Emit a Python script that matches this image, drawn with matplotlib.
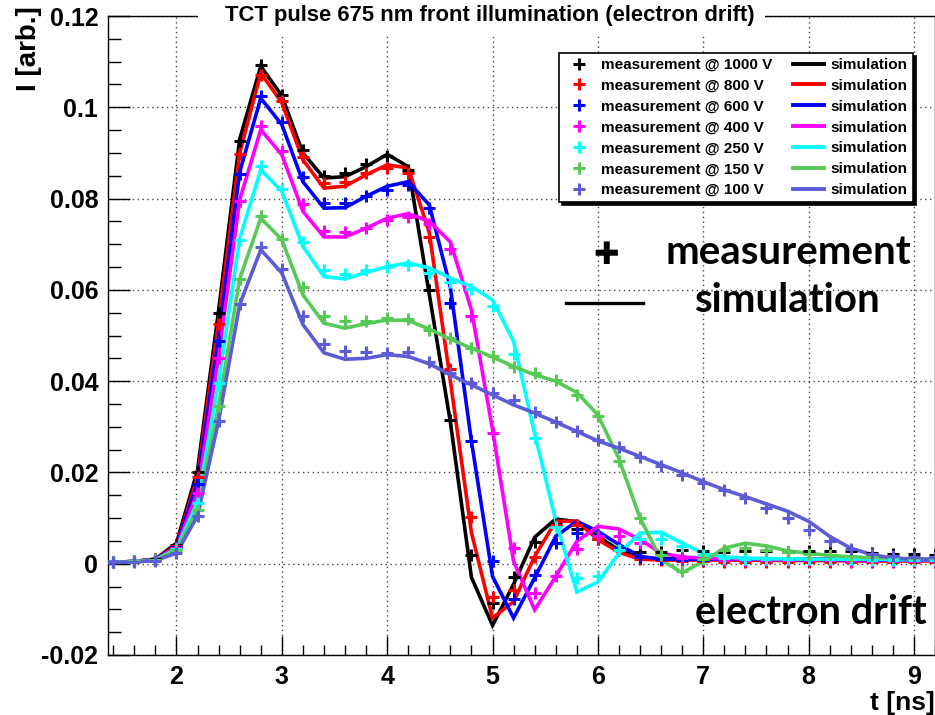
#!/usr/bin/env python3
"""TCT pulse, 675 nm front illumination: measured vs simulated current for several bias voltages."""
import matplotlib
matplotlib.use("Agg")
import matplotlib.pyplot as plt
from matplotlib.lines import Line2D
from matplotlib.patches import Rectangle
from matplotlib.ticker import MultipleLocator, FuncFormatter

# sampling times [ns], 0.2 ns steps
t_ns = [1.2, 1.4, 1.6, 1.8, 2.0, 2.2, 2.4, 2.6, 2.8, 3.0,
        3.2, 3.4, 3.6, 3.8, 4.0, 4.2, 4.4, 4.6, 4.8, 5.0,
        5.2, 5.4, 5.6, 5.8, 6.0, 6.2, 6.4, 6.6, 6.8, 7.0,
        7.2, 7.4, 7.6, 7.8, 8.0, 8.2, 8.4, 8.6, 8.8, 9.0, 9.2]

voltages = [1000, 800, 600, 400, 250, 150, 100]
colors = ["#000000", "#ff0000", "#0000ff", "#ff00ff", "#00ffff", "#57c957", "#5c5cd6"]

meas_1000 = [0.0003, 0.0004, 0.0005, 0.0010, 0.0042,
             0.0200, 0.0549, 0.0927, 0.1093, 0.1027,
             0.0907, 0.0850, 0.0855, 0.0876, 0.0893,
             0.0862, 0.0600, 0.0314, 0.0018, -0.0085,
             -0.0029, 0.0048, 0.0088, 0.0075, 0.0055,
             0.0035, 0.0025, 0.0025, 0.0030, 0.0028,
             0.0026, 0.0028, 0.0027, 0.0026, 0.0028,
             0.0028, 0.0027, 0.0024, 0.0022, 0.0022, 0.0020]
sim_1000 = [0.0003, 0.0003, 0.0005, 0.0010, 0.0045,
            0.0205, 0.0555, 0.0930, 0.1090, 0.1025,
            0.0900, 0.0845, 0.0848, 0.0870, 0.0897,
            0.0870, 0.0590, 0.0310, -0.0030, -0.0135,
            -0.0045, 0.0058, 0.0098, 0.0092, 0.0060,
            0.0030, 0.0013, 0.0010, 0.0012, 0.0012,
            0.0012, 0.0011, 0.0011, 0.0010, 0.0010,
            0.0010, 0.0009, 0.0009, 0.0008, 0.0008, 0.0008]

meas_800 = [0.0003, 0.0003, 0.0005, 0.0009, 0.0038,
            0.0189, 0.0525, 0.0897, 0.1071, 0.1013,
            0.0890, 0.0835, 0.0836, 0.0855, 0.0867,
            0.0856, 0.0716, 0.0427, 0.0102, -0.0072,
            -0.0057, 0.0014, 0.0085, 0.0085, 0.0055,
            0.0030, 0.0010, 0.0008, 0.0005, 0.0005,
            0.0004, 0.0004, 0.0004, 0.0003, 0.0004,
            0.0003, 0.0003, 0.0003, 0.0003, 0.0003, 0.0003]
sim_800 = [0.0003, 0.0003, 0.0005, 0.0010, 0.0040,
           0.0190, 0.0530, 0.0900, 0.1075, 0.1010,
           0.0885, 0.0823, 0.0827, 0.0852, 0.0874,
           0.0867, 0.0725, 0.0400, 0.0068, -0.0119,
           -0.0083, 0.0016, 0.0093, 0.0093, 0.0053,
           0.0025, 0.0010, 0.0008, 0.0008, 0.0008,
           0.0008, 0.0008, 0.0007, 0.0007, 0.0007,
           0.0007, 0.0006, 0.0006, 0.0006, 0.0006, 0.0006]

meas_600 = [0.0003, 0.0003, 0.0005, 0.0009, 0.0036,
            0.0175, 0.0489, 0.0854, 0.1024, 0.0967,
            0.0848, 0.0790, 0.0790, 0.0805, 0.0819,
            0.0830, 0.0780, 0.0572, 0.0269, 0.0007,
            -0.0077, -0.0024, 0.0045, 0.0067, 0.0062,
            0.0035, 0.0015, 0.0010, 0.0009, 0.0009,
            0.0009, 0.0009, 0.0008, 0.0008, 0.0008,
            0.0008, 0.0008, 0.0007, 0.0007, 0.0007, 0.0007]
sim_600 = [0.0003, 0.0003, 0.0005, 0.0009, 0.0037,
           0.0178, 0.0495, 0.0858, 0.1020, 0.0962,
           0.0837, 0.0779, 0.0780, 0.0805, 0.0827,
           0.0837, 0.0786, 0.0605, 0.0268, -0.0028,
           -0.0119, -0.0031, 0.0060, 0.0093, 0.0071,
           0.0042, 0.0016, 0.0010, 0.0010, 0.0010,
           0.0010, 0.0010, 0.0009, 0.0009, 0.0009,
           0.0009, 0.0008, 0.0008, 0.0008, 0.0008, 0.0008]

meas_400 = [0.0003, 0.0003, 0.0005, 0.0009, 0.0034,
            0.0155, 0.0451, 0.0794, 0.0958, 0.0905,
            0.0789, 0.0728, 0.0726, 0.0735, 0.0752,
            0.0759, 0.0745, 0.0690, 0.0542, 0.0286,
            0.0034, -0.0064, -0.0028, 0.0033, 0.0060,
            0.0060, 0.0045, 0.0020, 0.0012, 0.0010,
            0.0009, 0.0009, 0.0008, 0.0008, 0.0008,
            0.0008, 0.0007, 0.0007, 0.0007, 0.0007, 0.0007]
sim_400 = [0.0003, 0.0003, 0.0005, 0.0009, 0.0035,
           0.0158, 0.0455, 0.0797, 0.0951, 0.0896,
           0.0772, 0.0716, 0.0716, 0.0735, 0.0757,
           0.0767, 0.0750, 0.0705, 0.0556, 0.0294,
           0.0005, -0.0101, -0.0028, 0.0049, 0.0082,
           0.0076, 0.0053, 0.0023, 0.0015, 0.0012,
           0.0011, 0.0011, 0.0010, 0.0010, 0.0010,
           0.0010, 0.0009, 0.0009, 0.0009, 0.0009, 0.0009]

meas_250 = [0.0003, 0.0003, 0.0005, 0.0008, 0.0032,
            0.0134, 0.0396, 0.0710, 0.0872, 0.0821,
            0.0704, 0.0644, 0.0635, 0.0643, 0.0650,
            0.0655, 0.0638, 0.0618, 0.0602, 0.0564,
            0.0460, 0.0275, 0.0080, -0.0031, -0.0028,
            0.0030, 0.0055, 0.0054, 0.0038, 0.0020,
            0.0012, 0.0011, 0.0010, 0.0010, 0.0010,
            0.0010, 0.0010, 0.0009, 0.0009, 0.0009, 0.0009]
sim_250 = [0.0003, 0.0003, 0.0005, 0.0008, 0.0033,
           0.0135, 0.0398, 0.0712, 0.0863, 0.0816,
           0.0695, 0.0629, 0.0624, 0.0638, 0.0651,
           0.0659, 0.0648, 0.0626, 0.0607, 0.0578,
           0.0487, 0.0285, 0.0095, -0.0062, -0.0040,
           0.0023, 0.0067, 0.0069, 0.0045, 0.0023,
           0.0015, 0.0012, 0.0011, 0.0011, 0.0010,
           0.0010, 0.0010, 0.0010, 0.0009, 0.0009, 0.0009]

meas_150 = [0.0003, 0.0003, 0.0005, 0.0008, 0.0030,
            0.0118, 0.0346, 0.0624, 0.0761, 0.0712,
            0.0606, 0.0542, 0.0531, 0.0532, 0.0538,
            0.0536, 0.0513, 0.0495, 0.0472, 0.0454,
            0.0432, 0.0418, 0.0402, 0.0370, 0.0323,
            0.0224, 0.0100, 0.0020, -0.0016, 0.0010,
            0.0031, 0.0034, 0.0030, 0.0025, 0.0022,
            0.0018, 0.0016, 0.0015, 0.0014, 0.0013, 0.0012]
sim_150 = [0.0003, 0.0003, 0.0005, 0.0008, 0.0030,
           0.0118, 0.0346, 0.0624, 0.0757, 0.0710,
           0.0589, 0.0527, 0.0516, 0.0526, 0.0534,
           0.0533, 0.0514, 0.0492, 0.0472, 0.0453,
           0.0432, 0.0414, 0.0400, 0.0375, 0.0326,
           0.0230, 0.0100, 0.0009, -0.0020, 0.0005,
           0.0034, 0.0045, 0.0039, 0.0028, 0.0023,
           0.0018, 0.0015, 0.0013, 0.0012, 0.0011, 0.0010]

meas_100 = [0.0003, 0.0003, 0.0004, 0.0007, 0.0023,
            0.0105, 0.0313, 0.0569, 0.0693, 0.0646,
            0.0542, 0.0482, 0.0465, 0.0463, 0.0462,
            0.0463, 0.0443, 0.0418, 0.0395, 0.0374,
            0.0358, 0.0332, 0.0310, 0.0290, 0.0272,
            0.0256, 0.0234, 0.0215, 0.0195, 0.0177,
            0.0161, 0.0144, 0.0122, 0.0100, 0.0073,
            0.0049, 0.0033, 0.0022, 0.0016, 0.0015, 0.0015]
sim_100 = [0.0003, 0.0003, 0.0004, 0.0007, 0.0023,
           0.0105, 0.0313, 0.0568, 0.0688, 0.0637,
           0.0524, 0.0462, 0.0448, 0.0450, 0.0458,
           0.0454, 0.0438, 0.0414, 0.0392, 0.0370,
           0.0348, 0.0330, 0.0310, 0.0290, 0.0269,
           0.0253, 0.0235, 0.0217, 0.0199, 0.0180,
           0.0162, 0.0147, 0.0131, 0.0115, 0.0093,
           0.0060, 0.0034, 0.0020, 0.0012, 0.0010, 0.0010]

measurements = [meas_1000, meas_800, meas_600, meas_400, meas_250, meas_150, meas_100]
simulations = [sim_1000, sim_800, sim_600, sim_400, sim_250, sim_150, sim_100]

plt.rcParams['font.family'] = ['Liberation Sans', 'DejaVu Sans']
plt.rcParams['font.weight'] = 'bold'
plt.rcParams['axes.unicode_minus'] = False

fig = plt.figure(figsize=(9.35, 7.15), dpi=100)
ax = fig.add_axes([108 / 935, 60 / 715, 827 / 935, 639 / 715])

line_handles = []
marker_handles = []
for sim, col in zip(simulations, colors):
    ln, = ax.plot(t_ns, sim, color=col, lw=2.6, solid_joinstyle='miter', zorder=3)
    line_handles.append(ln)
for meas, col in zip(measurements, colors):
    mk, = ax.plot(t_ns, meas, ls='none', marker='+', ms=9, mew=2.2, color=col, zorder=4)
    marker_handles.append(mk)

ax.set_xlim(1.35, 9.2)
ax.set_ylim(-0.02, 0.12)

ax.xaxis.set_major_locator(MultipleLocator(1))
ax.xaxis.set_minor_locator(MultipleLocator(0.2))
ax.yaxis.set_major_locator(MultipleLocator(0.02))
ax.yaxis.set_minor_locator(MultipleLocator(0.005))
ax.yaxis.set_major_formatter(FuncFormatter(lambda v, pos: f"{round(v, 3):g}"))

ax.tick_params(axis='both', which='both', direction='in', top=False, right=False,
               width=1.0, color='black')
ax.tick_params(axis='x', which='major', length=14, pad=7, labelsize=18)
ax.tick_params(axis='x', which='minor', length=7)
ax.tick_params(axis='y', which='major', length=16, pad=7, labelsize=18)
ax.tick_params(axis='y', which='minor', length=9)
for lab in ax.get_xticklabels() + ax.get_yticklabels():
    lab.set_fontweight('bold')

ax.grid(True, which='major', color='#444444', lw=1.0, ls=(0, (1, 2.5)))
ax.set_axisbelow(True)
for sp in ax.spines.values():
    sp.set_linewidth(1.0)

ax.set_ylabel("I [arb.]", fontsize=20, fontweight='bold', loc='top')
ax.yaxis.set_label_coords(-0.08, 1.016)
ax.set_xlabel("t [ns]", fontsize=19, fontweight='bold', loc='right')
ax.xaxis.set_label_coords(1.0, -0.056)

# two-column legend: measurement markers on the left, simulation lines on the right
labels = [f"measurement @ {v} V" for v in voltages] + ["simulation"] * len(voltages)
leg = ax.legend(marker_handles + line_handles, labels, ncol=2,
                loc='upper right', bbox_to_anchor=(0.973, 0.942),
                prop={'family': 'Liberation Sans', 'weight': 'bold', 'size': 11},
                frameon=True, fancybox=False, edgecolor='black', framealpha=1,
                borderpad=0.32, labelspacing=0.45, handlelength=2.0,
                handletextpad=0.45, columnspacing=1.35, borderaxespad=0,
                shadow={'ox': 2.2, 'oy': -2.2, 'color': 'black', 'alpha': 1})
leg.get_frame().set_linewidth(1.2)
for h in leg.legend_handles:
    if h.get_marker() == '+':
        h.set_markersize(8)
        h.set_markeredgewidth(2.2)
    else:
        h.set_linewidth(2.8)

# title sits on a white box that interrupts the top frame
fig.add_artist(Rectangle((198 / 935, 1 - 35 / 715), 567 / 935, 35 / 715,
                         transform=fig.transFigure, facecolor='white',
                         edgecolor='none', zorder=2.5))
fig.text(490 / 935, 1 - 15 / 715, "TCT pulse 675 nm front illumination (electron drift)",
         ha='center', va='center', fontsize=15.8, fontweight='bold', zorder=3)

# marker / line key and drift label
fig.text(606 / 935, 1 - 256 / 715, "\u271a", ha='center', va='center',
         fontsize=22, family='DejaVu Sans', color='black')
fig.text(665 / 935, 1 - 264 / 715, "measurement", ha='left', va='baseline',
         fontsize=29, family='Lato', fontweight='bold')
fig.add_artist(Line2D([566 / 935, 643 / 935], [1 - 303 / 715, 1 - 303 / 715],
                      transform=fig.transFigure, color='black', lw=2.4))
fig.text(695 / 935, 1 - 312 / 715, "simulation", ha='left', va='baseline',
         fontsize=29, family='Lato', fontweight='bold')
fig.text(695 / 935, 1 - 624 / 715, "electron drift", ha='left', va='baseline',
         fontsize=28.5, family='Lato', fontweight='bold')

fig.savefig("out.png", dpi=100)
